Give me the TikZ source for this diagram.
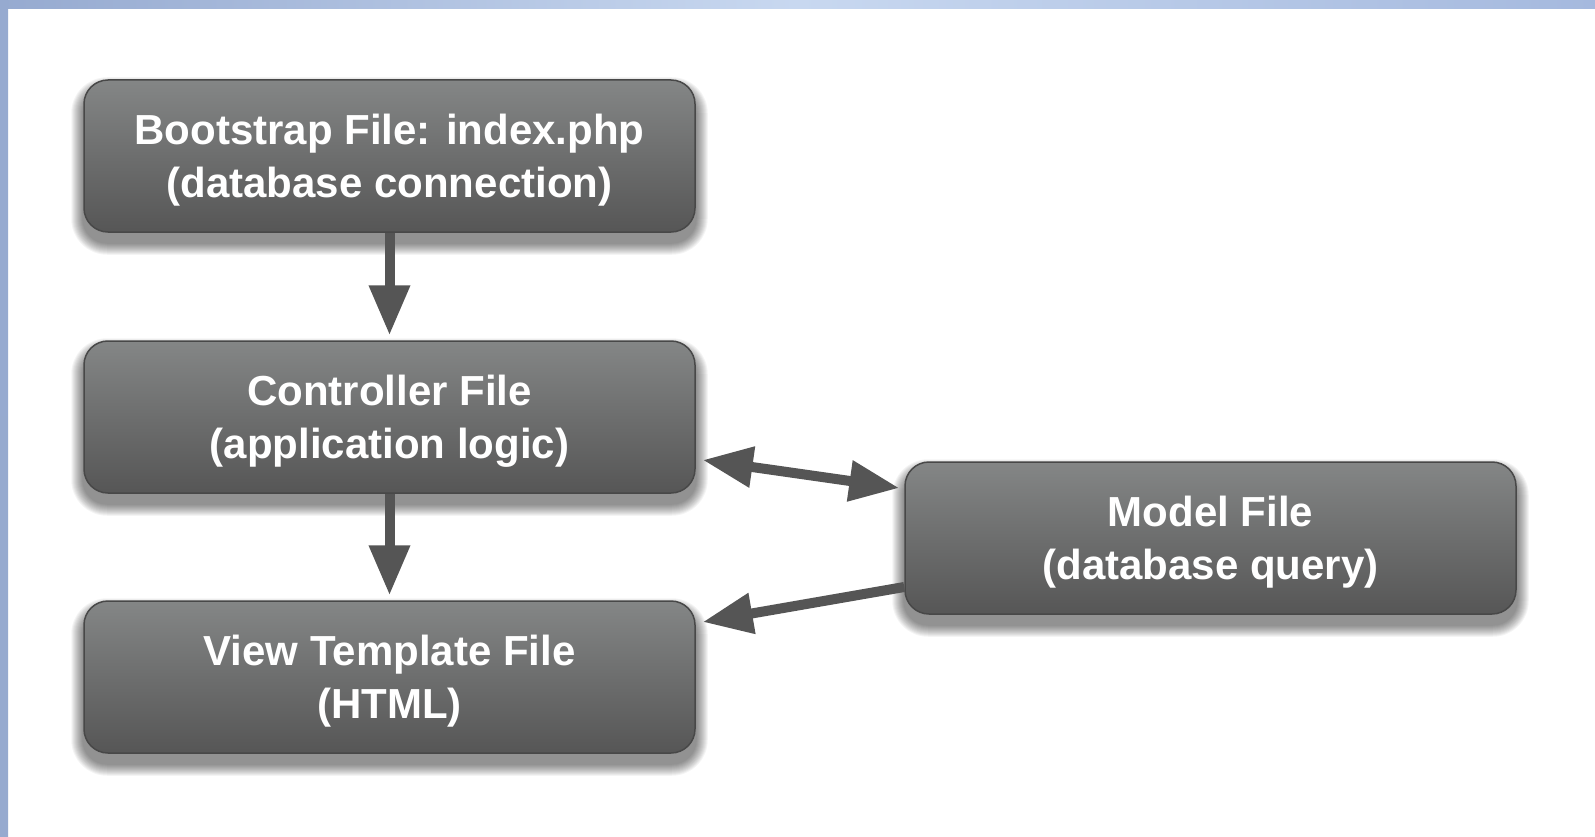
\documentclass[tikz,border=0pt]{standalone}
\usepackage{fontspec}
\setmainfont{Liberation Sans}
\usetikzlibrary{arrows.meta,calc,backgrounds}
\definecolor{arr}{RGB}{85,85,85}
\definecolor{boxtop}{RGB}{132,134,134}
\definecolor{boxbot}{RGB}{86,86,86}
\definecolor{boxedge}{RGB}{72,72,72}
\definecolor{stripA}{RGB}{150,170,208}
\definecolor{stripB}{RGB}{200,216,240}
\definecolor{stripC}{RGB}{165,185,222}
\definecolor{stripL}{RGB}{150,170,207}
\tikzset{
  filebox/.style={rounded corners=24pt, minimum width=611pt, minimum height=152pt,
    inner sep=0pt, top color=boxtop, bottom color=boxbot, draw=boxedge,
    line width=1.5pt},
  boxtext/.style={text=white, align=center, yshift=-4pt,
    font=\bfseries\fontsize{42}{53}\selectfont},
  conn/.style={draw=arr, line width=10pt, -{Triangle[width=39pt,length=50pt]}},
  conn2/.style={draw=arr, line width=10pt,
    {Triangle[width=39pt,length=50pt]}-{Triangle[width=39pt,length=50pt]}},
}
\begin{document}
\begin{tikzpicture}[x=1pt,y=-1pt]
\useasboundingbox (0,0) rectangle (1595,837);

\node[filebox, label={[boxtext]center:{Bootstrap File: index.php\\(database connection)}}] (boot) at (389.5,156) {};
\node[filebox, label={[boxtext]center:{Controller File\\(application logic)}}] (ctrl) at (389.5,417) {};
\node[filebox, label={[boxtext]center:{View Template File\\(HTML)}}] (view) at (389.5,677) {};
\node[filebox, label={[boxtext]center:{Model File\\(database query)}}] (model) at (1210.5,538) {};

\begin{scope}[on background layer]
\fill[white] (0,0) rectangle (1595,837);
\shade[left color=stripA, right color=stripC, middle color=stripB] (0,0) rectangle (1595,9);
\shade[top color=stripA, bottom color=stripL] (0,0) rectangle (8,837);
\foreach \n in {boot,ctrl,view,model}{
  \foreach \i in {1,...,12}{
    \pgfmathsetmacro{\rr}{24+\i}
    \fill[black,opacity=0.045,rounded corners=\rr pt]
      ($(\n.north west)+(-\i,-\i+10)$) rectangle ($(\n.south east)+(\i,\i+10)$);
  }
}
\end{scope}

\draw[conn] (boot.south) -- ($(ctrl.north)+(0,-5)$);
\draw[conn] (ctrl.south) -- ($(view.north)+(0,-5)$);
\draw[conn2] ($(ctrl.east)+(7,43)$) -- ($(model.west)+(-5,-50)$);
\draw[conn] ($(model.west)+(0,49)$) -- ($(view.east)+(7,-55)$);
\end{tikzpicture}
\end{document}
